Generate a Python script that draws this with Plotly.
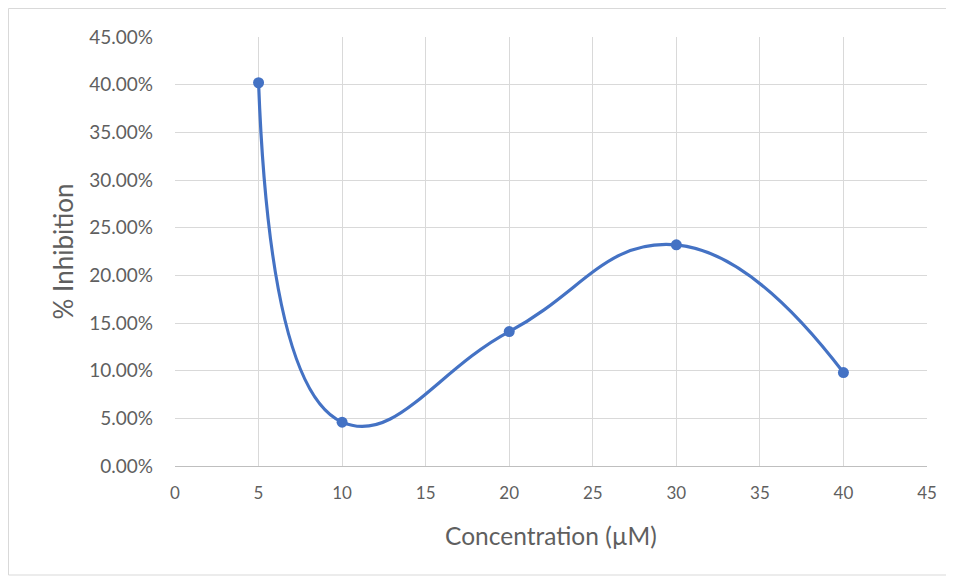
import plotly.graph_objects as go

concentration = [5, 10, 20, 30, 40]
inhibition = [0.402, 0.046, 0.141, 0.232, 0.098]
x_ticks = [0, 5, 10, 15, 20, 25, 30, 35, 40, 45]
y_ticks = [0, 0.05, 0.10, 0.15, 0.20, 0.25, 0.30, 0.35, 0.40, 0.45]

fig = go.Figure()
fig.add_trace(go.Scatter(
    x=concentration, y=inhibition, mode="lines+markers",
    line=dict(color="#4472C4", width=3.2, shape="spline", smoothing=1.3),
    marker=dict(color="#4472C4", size=11),
    showlegend=False,
))

# page body has an 8px offset, so the figure is sized/margined accordingly
W, H = 946, 569
L, R, T, B = 167, 27, 29, 111
pw, ph = W - L - R, H - T - B

font_family = "Lato, 'Open Sans', sans-serif"
fig.update_layout(
    width=W, height=H,
    margin=dict(l=L, r=R, t=T, b=B),
    paper_bgcolor="white", plot_bgcolor="white",
    font=dict(family=font_family, color="#595959", size=14),
    xaxis=dict(
        range=[0, 45], tickvals=x_ticks, ticktext=[str(v) for v in x_ticks],
        showgrid=True, gridcolor="#D9D9D9", gridwidth=1,
        showline=True, linecolor="#BFBFBF", linewidth=1, mirror=False,
        zeroline=False, ticks="", ticklen=0, ticklabelstandoff=12,
        tickfont=dict(size=17, color="#5F5F5F"),
        title=dict(text="Concentration (µM)", font=dict(size=24.5, color="#5F5F5F"), standoff=25),
    ),
    yaxis=dict(
        range=[0, 0.45], tickvals=y_ticks, tickformat=".2%",
        showgrid=True, gridcolor="#D9D9D9", gridwidth=1,
        showline=False, zeroline=False, ticks="", ticklen=0, ticklabelstandoff=21,
        tickfont=dict(size=19, color="#5F5F5F"),
        title=dict(text="% Inhibition", font=dict(size=26, color="#5F5F5F"), standoff=8),
    ),
    shapes=[dict(type="rect", xref="paper", yref="paper",
                 x0=-(L - 0.5) / pw, x1=(939 - L) / pw,
                 y0=-(567 - (H - B)) / ph, y1=1 + (T - 0.5) / ph,
                 line=dict(color="#D9D9D9", width=1))],
)

fig.write_html("out.html")
